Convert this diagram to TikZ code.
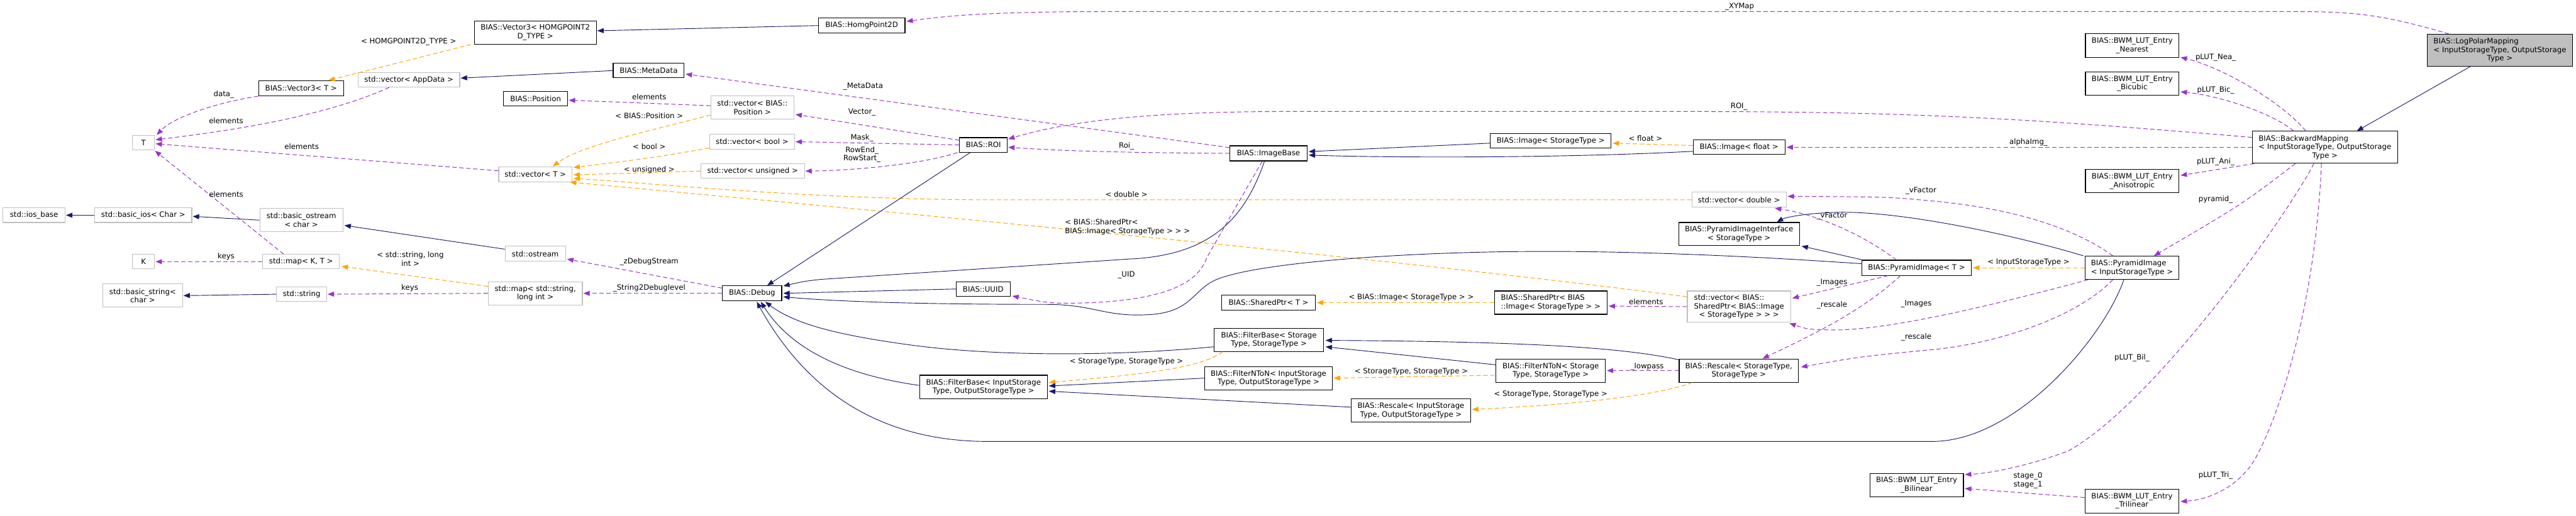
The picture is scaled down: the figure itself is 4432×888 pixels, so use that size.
\documentclass[tikz,border=0pt]{standalone}
\usepackage{fontspec}
\setmainfont{DejaVu Sans}
\usetikzlibrary{arrows.meta,calc}
\definecolor{inhc}{HTML}{191970}
\definecolor{usec}{HTML}{9A32CD}
\definecolor{tplc}{HTML}{FFA500}
\definecolor{extc}{HTML}{BFBFBF}
\newcommand\fs{\fontsize{12.7}{14.6}\selectfont}
\newcommand\fl[2]{\rlap{#1}\phantom{#2}}
\tikzset{
 nbase/.style={font=\fs, inner sep=0pt, align=center, line width=1.2pt, fill=white},
 cls/.style={nbase, draw=black},
 ext/.style={nbase, draw=extc},
 mainn/.style={nbase, draw=black, fill=extc},
 lbl/.style={font=\fs, inner sep=0pt, align=center},
 tipx/.style={-{Triangle[length=11pt,width=8.5pt]}},
 inh/.style={draw=inhc, line width=1.0pt, tipx},
 use/.style={draw=usec, line width=1.1pt, dash pattern=on 7.5pt off 4.5pt, tipx},
 tpl/.style={draw=tplc, line width=1.1pt, dash pattern=on 7.5pt off 4.5pt, tipx},
}
\begin{document}
\begin{tikzpicture}[x=1pt,y=-1pt]
\fill[white] (0,0) rectangle (4432,888);
\useasboundingbox (0,0) rectangle (4432,888);
% nodes
\node[ext, minimum width=107pt, minimum height=25pt] (ios) at (58.5,370.5) {std::ios\_base};
\node[ext, minimum width=167pt, minimum height=25pt] (basicios) at (246.5,370.5) {std::basic\_ios< Char >};
\node[ext, minimum width=38pt, minimum height=25pt] (T) at (247,245.5) {T};
\node[ext, minimum width=38pt, minimum height=25pt] (K) at (247,450.5) {K};
\node[ext, minimum width=137pt, minimum height=40pt] (bstring) at (245.5,509) {std::basic\_string<\\char >};
\node[cls, minimum width=146pt, minimum height=26pt] (v3T) at (518,152) {BIAS::Vector3< T >};
\node[ext, minimum width=143pt, minimum height=40pt] (bostream) at (518.5,379) {std::basic\_ostream\\< char >};
\node[ext, minimum width=132pt, minimum height=25pt] (mapKT) at (518,450.5) {std::map< K, T >};
\node[ext, minimum width=86pt, minimum height=25pt] (string) at (519,506.5) {std::string};
\node[ext, minimum width=175pt, minimum height=25pt] (vAppData) at (703.5,137.5) {std::vector< AppData >};
\node[cls, minimum width=210pt, minimum height=40pt] (v3H) at (921,56) {BIAS::Vector3< HOMGPOINT2\\D\_TYPE >};
\node[cls, minimum width=111pt, minimum height=25pt] (Position) at (921.5,169.5) {BIAS::Position};
\node[ext, minimum width=126pt, minimum height=26pt] (vT) at (921,300) {std::vector< T >};
\node[ext, minimum width=104pt, minimum height=26pt] (ostream) at (921,437) {std::ostream};
\node[ext, minimum width=162pt, minimum height=40pt] (mapSL) at (921,505) {std::map< std::string,\\long int >};
\node[cls, minimum width=122pt, minimum height=25pt] (MetaData) at (1116,121.5) {BIAS::MetaData};
\node[ext, minimum width=143pt, minimum height=40pt] (vPos) at (1294.5,185) {std::vector< BIAS::\\Position >};
\node[ext, minimum width=146pt, minimum height=26pt] (vBool) at (1294,244) {std::vector< bool >};
\node[ext, minimum width=178pt, minimum height=25pt] (vUns) at (1295,294.5) {std::vector< unsigned >};
\node[cls, minimum width=102pt, minimum height=26pt] (Debug) at (1294,505) {BIAS::Debug};
\node[cls, minimum width=149pt, minimum height=26pt] (HomgPoint2D) at (1482.5,44) {BIAS::HomgPoint2D};
\node[cls, minimum width=82pt, minimum height=25pt] (ROI) at (1692,249.5) {BIAS::ROI};
\node[cls, minimum width=93pt, minimum height=25pt] (UUID) at (1691.5,497.5) {BIAS::UUID};
\node[cls, minimum width=220pt, minimum height=41pt] (FBio) at (1692,666.5) {BIAS::FilterBase< InputStorage\\Type, OutputStorageType >};
\node[cls, minimum width=133pt, minimum height=26pt] (ImageBase) at (2182.5,264) {BIAS::ImageBase};
\node[cls, minimum width=161pt, minimum height=26pt] (SPT) at (2182.5,521) {BIAS::SharedPtr< T >};
\node[cls, minimum width=188pt, minimum height=40pt] (FBss) at (2183,585) {BIAS::FilterBase< Storage\\Type, StorageType >};
\node[cls, minimum width=219pt, minimum height=40pt] (FNio) at (2182.5,651) {BIAS::FilterNToN< InputStorage\\Type, OutputStorageType >};
\node[cls, minimum width=205pt, minimum height=40pt] (Rio) at (2427.5,707) {BIAS::Rescale< InputStorage\\Type, OutputStorageType >};
\node[cls, minimum width=208pt, minimum height=25pt] (ImgST) at (2668,242.5) {BIAS::Image< StorageType >};
\node[cls, minimum width=194pt, minimum height=40pt] (SPImg) at (2668,521) {\fl{BIAS::SharedPtr< BIAS}{::Image< StorageType > >}\\::Image< StorageType > >};
\node[cls, minimum width=188pt, minimum height=40pt] (FNss) at (2668,638) {BIAS::FilterNToN< Storage\\Type, StorageType >};
\node[cls, minimum width=158pt, minimum height=25pt] (ImgF) at (2992,253.5) {BIAS::Image< float >};
\node[ext, minimum width=162pt, minimum height=26pt] (vDouble) at (2992,344) {std::vector< double >};
\node[cls, minimum width=208pt, minimum height=40pt] (PII) at (2992,403) {BIAS::PyramidImageInterface\\< StorageType >};
\node[ext, minimum width=178pt, minimum height=54pt] (vSP) at (2992,528) {\fl{std::vector< BIAS::}{SharedPtr< BIAS::Image}\\SharedPtr< BIAS::Image\\< StorageType > > >};
\node[cls, minimum width=205pt, minimum height=40pt] (Rss) at (2991.5,638) {BIAS::Rescale< StorageType,\\StorageType >};
\node[cls, minimum width=189pt, minimum height=26pt] (PIT) at (3297.5,461) {BIAS::PyramidImage< T >};
\node[cls, minimum width=161pt, minimum height=40pt] (Bil) at (3297.5,835) {BIAS::BWM\_LUT\_Entry\\\_Bilinear};
\node[cls, minimum width=161pt, minimum height=41pt] (Nearest) at (3668.5,78.5) {BIAS::BWM\_LUT\_Entry\\\_Nearest};
\node[cls, minimum width=161pt, minimum height=40pt] (Bicubic) at (3668.5,144) {BIAS::BWM\_LUT\_Entry\\\_Bicubic};
\node[cls, minimum width=161pt, minimum height=40pt] (Aniso) at (3668.5,312) {BIAS::BWM\_LUT\_Entry\\\_Anisotropic};
\node[cls, minimum width=162pt, minimum height=40pt] (PIin) at (3668,461) {\fl{BIAS::PyramidImage}{< InputStorageType >}\\< InputStorageType >};
\node[cls, minimum width=162pt, minimum height=41pt] (Tri) at (3668,862.5) {BIAS::BWM\_LUT\_Entry\\\_Trilinear};
\node[cls, minimum width=250pt, minimum height=55pt] (BM) at (4000,253.5) {\fl{BIAS::BackwardMapping}{< InputStorageType, OutputStorage}\\< InputStorageType, OutputStorage\\Type >};
\node[mainn, minimum width=250pt, minimum height=55pt] (LP) at (4301,86.5) {\fl{BIAS::LogPolarMapping}{< InputStorageType, OutputStorage}\\< InputStorageType, OutputStorage\\Type >};

% edges
\draw[inh] (HomgPoint2D.west) -- ($(v3H.east)+(1,-3)$);
\draw[tpl] ($(v3H.south west)+(-5,0)$) -- ($(v3T.north)+(47,0)$);
\draw[use] (v3T.south west) .. controls (380,175) and (300,200) .. ($(T.north east)+(3,0)$);
\draw[use] ($(vAppData.south)+(-34,0)$) .. controls (560,200) and (400,225) .. ($(T.east)+(1,-5)$);
\draw[use] ($(vT.west)+(0,-6)$) -- ($(T.east)+(1,2)$);
\draw[use] ($(mapKT.north)+(-30,0)$) -- ($(T.south east)+(0,1)$);
\draw[use] (mapKT.west) -- ($(K.east)+(1,0)$);
\draw[inh] (MetaData.west) -- ($(vAppData.east)+(1,-3)$);
\draw[use] ($(vPos.west)+(0,-3)$) -- ($(Position.east)+(1,3)$);
\draw[tpl] ($(vPos.west)+(0,13)$) .. controls (1120,225) and (1000,250) .. ($(vT.north)+(30,0)$);
\draw[tpl] ($(vBool.west)+(0,11)$) .. controls (1120,272) .. ($(vT.north east)+(2,2)$);
\draw[tpl] (vUns.west) -- ($(vT.east)+(2,1)$);
\draw[tpl] (vDouble.west) -- (1700,344) .. controls (1400,343) and (1150,318) .. ($(vT.east)+(2,7)$);
\draw[tpl] ($(vSP.west)+(0,-17)$) .. controls (2400,445) and (1500,362) .. ($(vT.south east)+(-4,0)$);
\draw[use] ($(ROI.west)+(0,-8)$) -- ($(vPos.east)+(2,12)$);
\draw[use] (ROI.west) -- ($(vBool.east)+(1,0)$);
\draw[use] ($(ROI.south west)+(-3,0)$) .. controls (1580,285) and (1450,294) .. ($(vUns.east)+(1,0)$);
\draw[use] ($(ImageBase.west)+(0,-10)$) -- ($(MetaData.east)+(2,6)$);
\draw[use] (ImageBase.west) .. controls (1900,263) and (1800,258) .. ($(ROI.east)+(1,4)$);
\draw[use] ($(BM.west)+(0,-17)$) .. controls (3500,205) and (3300,192) .. (2900,192) -- (2216,192) .. controls (2000,192) and (1850,205) .. ($(ROI.north east)+(1,3)$);
\draw[use] ($(LP.north west)+(38,0)$) .. controls (4100,25) and (4050,20) .. (3950,20) -- (1900,20) .. controls (1700,20) and (1620,28) .. ($(HomgPoint2D.east)+(2,-7)$);
\draw[inh] ($(ROI.south west)+(19,0)$) -- ($(Debug.north)+(26,0)$);
\draw[inh] ($(ImageBase.south)+(-7,0)$) .. controls (2140,380) and (2080,440) .. (1942,446) -- (1412,481) .. controls (1385,484) .. ($(Debug.north east)+(2,1)$);
\draw[use] ($(ImageBase.south)+(-11,0)$) -- (2076,444) .. controls (2060,490) and (2000,515) .. (1880,521) .. controls (1810,523) .. ($(UUID.south east)+(3,-1)$);
\draw[inh] (UUID.west) -- ($(Debug.east)+(2,0)$);
\draw[inh] ($(PIT.west)+(0,-7)$) .. controls (3000,440) and (2800,432) .. (2640,433) .. controls (2450,433) and (2150,450) .. (2085,485) .. controls (2050,505) and (2045,540) .. (1970,542) .. controls (1900,545) and (1880,524) .. (1800,524) .. controls (1600,524) and (1450,520) .. ($(Debug.east)+(2,6)$);
\draw[inh] ($(FBss.west)+(0,12)$) .. controls (1900,615) and (1700,612) .. (1567,594) .. controls (1450,578) and (1370,560) .. ($(Debug.south east)+(-29,1)$);
\draw[inh] ($(FBio.west)+(0,-3)$) .. controls (1450,645) and (1360,600) .. ($(Debug.south)+(15,1)$);
\draw[inh] ($(PIin.south)+(-14,0)$) .. controls (3620,580) and (3470,760) .. (3324,760) -- (1700,760) .. controls (1500,760) and (1380,660) .. ($(Debug.south)+(8,1)$);
\draw[tpl] ($(FBss.south west)+(15,0)$) .. controls (2070,630) and (2000,642) .. ($(FBio.east)+(2,-8)$);
\draw[inh] (FNio.west) -- ($(FBio.east)+(2,-2)$);
\draw[inh] ($(Rio.west)+(0,-6)$) -- ($(FBio.east)+(2,7)$);
\draw[inh] ($(FNss.west)+(0,-10)$) -- ($(FBss.east)+(3,12)$);
\draw[inh] ($(Rss.north west)+(0,2)$) .. controls (2800,600) and (2650,588) .. ($(FBss.east)+(3,1)$);
\draw[tpl] ($(FNss.west)+(-2,8)$) -- ($(FNio.east)+(2,0)$);
\draw[use] (Rss.west) -- ($(FNss.east)+(2,0)$);
\draw[tpl] ($(Rss.south west)+(23,0)$) .. controls (2850,682) and (2700,697) .. ($(Rio.east)+(2,-2)$);
\draw[tpl] (SPImg.west) -- ($(SPT.east)+(2,0)$);
\draw[use] (vSP.west) -- ($(SPImg.east)+(2,6)$);
\draw[use] ($(PIT.south)+(-49,0)$) -- ($(vSP.north east)+(2,13)$);
\draw[use] ($(PIT.south)+(-28,0)$) .. controls (3200,540) and (3100,585) .. ($(Rss.north)+(41,0)$);
\draw[use] ($(PIT.north)+(-35,0)$) .. controls (3200,400) and (3120,368) .. ($(vDouble.south east)+(-20,1)$);
\draw[inh] ($(PIT.north west)+(2,0)$) -- ($(PII.south east)+(3,0)$);
\draw[inh] ($(PIin.north west)+(-2,0)$) .. controls (3450,400) and (3250,360) .. (3149,366) .. controls (3100,368) and (3070,375) .. ($(PII.north)+(65,0)$);
\draw[tpl] (PIin.west) -- ($(PIT.east)+(2,0)$);
\draw[use] ($(PIin.north)+(-33,0)$) .. controls (3580,400) and (3480,360) .. (3324,346) .. controls (3250,339) .. ($(vDouble.east)+(2,-6)$);
\draw[use] ($(PIin.south west)+(6,0)$) .. controls (3450,520) and (3250,570) .. (3150,568) .. controls (3110,567) .. ($(vSP.south east)+(-3,1)$);
\draw[use] ($(PIin.south)+(-33,0)$) .. controls (3580,540) and (3450,590) .. (3324,602) .. controls (3200,614) .. ($(Rss.east)+(4,-6)$);
\draw[use] ($(BM.south)+(-51,0)$) .. controls (3860,350) .. ($(PIin.north)+(38,0)$);
\draw[use] (BM.west) -- ($(ImgF.east)+(2,0)$);
\draw[use] ($(BM.north)+(-33,0)$) .. controls (3930,180) and (3830,118) .. ($(Nearest.south east)+(2,-1)$);
\draw[use] ($(BM.north)+(-54,0)$) .. controls (3910,195) and (3820,165) .. ($(Bicubic.east)+(2,14)$);
\draw[use] ($(BM.south west)+(4,0)$) -- ($(Aniso.east)+(2,-10)$);
\draw[use] ($(BM.south)+(-19,0)$) .. controls (3930,380) and (3700,700) .. (3557,777) .. controls (3480,805) and (3420,815) .. ($(Bil.east)+(2,-18)$);
\draw[use] ($(BM.south)+(-6,0)$) .. controls (3985,500) and (3930,700) .. (3880,790) .. controls (3850,840) and (3800,860) .. ($(Tri.east)+(2,1)$);
\draw[use] ($(Tri.west)+(0,-6)$) -- ($(Bil.east)+(2,6)$);
\draw[inh] ($(LP.south)+(-51,0)$) -- ($(BM.north)+(55,0)$);
\draw[inh] ($(ImgST.west)+(0,4)$) -- ($(ImageBase.east)+(2,-3)$);
\draw[inh] ($(ImgF.west)+(0,7)$) .. controls (2700,272) and (2400,272) .. ($(ImageBase.east)+(2,3)$);
\draw[tpl] ($(ImgF.west)+(0,-3)$) -- ($(ImgST.east)+(2,4)$);
\draw[inh] ($(ostream.west)+(0,-8)$) -- ($(bostream.east)+(2,9)$);
\draw[inh] (bostream.west) -- ($(basicios.east)+(1,2)$);
\draw[inh] (basicios.west) -- ($(ios.east)+(1,0)$);
\draw[inh] (string.west) -- ($(bstring.east)+(1,0)$);
\draw[use] (mapSL.west) -- ($(string.east)+(1,0)$);
\draw[tpl] ($(mapSL.west)+(0,-12)$) -- ($(mapKT.east)+(3,8)$);
\draw[use] ($(Debug.west)+(0,-9)$) -- ($(ostream.east)+(2,9)$);
\draw[use] (Debug.west) -- ($(mapSL.east)+(1,0)$);

% labels
\node[lbl] (l1) at (703,72) {< HOMGPOINT2D\_TYPE >};
\node[lbl] (l2) at (385,163) {data\_};
\node[lbl] (l3) at (389,208) {elements};
\node[lbl] (l4) at (519,252) {elements};
\node[lbl] (l5) at (389,334) {elements};
\node[lbl] (l6) at (389,442) {keys};
\node[lbl] (l7) at (706,446) {< std::string, long\\int >};
\node[lbl] (l8) at (705,496) {keys};
\node[lbl] (l9) at (1117,451) {\_zDebugStream};
\node[lbl] (l10) at (1117,496) {\_String2Debuglevel};
\node[lbl] (l11) at (1117,167) {elements};
\node[lbl] (l12) at (1117,199) {< BIAS::Position >};
\node[lbl] (l13) at (1117,252) {< bool >};
\node[lbl] (l14) at (1117,292) {< unsigned >};
\node[lbl] (l15) at (1485,149) {\_MetaData};
\node[lbl] (l16) at (1483,193) {Vector\_};
\node[lbl] (l17) at (1483,237) {Mask\_};
\node[lbl] (l18) at (1483,266) {RowEnd\_\\RowStart\_};
\node[lbl] (l19) at (1938,251) {Roi\_};
\node[lbl] (l20) at (1938,335) {< double >};
\node[lbl, align=left, anchor=west] (l21) at (1832,391) {< BIAS::SharedPtr<\\BIAS::Image< StorageType > > >};
\node[lbl] (l22) at (2993,12) {\_XYMap};
\node[lbl] (l23) at (2992,183) {ROI\_};
\node[lbl] (l24) at (1938,473) {\_UID};
\node[lbl] (l25) at (1938,623) {< StorageType, StorageType >};
\node[lbl] (l26) at (2831,238) {< float >};
\node[lbl] (l27) at (2428,512) {< BIAS::Image< StorageType > >};
\node[lbl] (l28) at (2832,520) {elements};
\node[lbl] (l29) at (2428,640) {< StorageType, StorageType >};
\node[lbl] (l30) at (2834,631) {\_lowpass};
\node[lbl] (l31) at (2668,679) {< StorageType, StorageType >};
\node[lbl] (l32) at (3305,329) {\_vFactor};
\node[lbl] (l33) at (3152,372) {\_vFactor};
\node[lbl] (l34) at (3152,487) {\_Images};
\node[lbl] (l35) at (3152,525) {\_rescale};
\node[lbl] (l36) at (3297,523) {\_Images};
\node[lbl] (l37) at (3297,580) {\_rescale};
\node[lbl] (l38) at (3490,452) {< InputStorageType >};
\node[lbl] (l39) at (3490,245) {alphaImg\_};
\node[lbl] (l40) at (3812,99) {pLUT\_Nea\_};
\node[lbl] (l41) at (3812,155) {pLUT\_Bic\_};
\node[lbl] (l42) at (3812,278) {pLUT\_Ani\_};
\node[lbl] (l43) at (3812,343) {pyramid\_};
\node[lbl] (l44) at (3668,616) {pLUT\_Bil\_};
\node[lbl] (l45) at (3489,827) {stage\_0\\stage\_1};
\node[lbl] (l46) at (3812,819) {pLUT\_Tri\_};
\end{tikzpicture}
\end{document}
